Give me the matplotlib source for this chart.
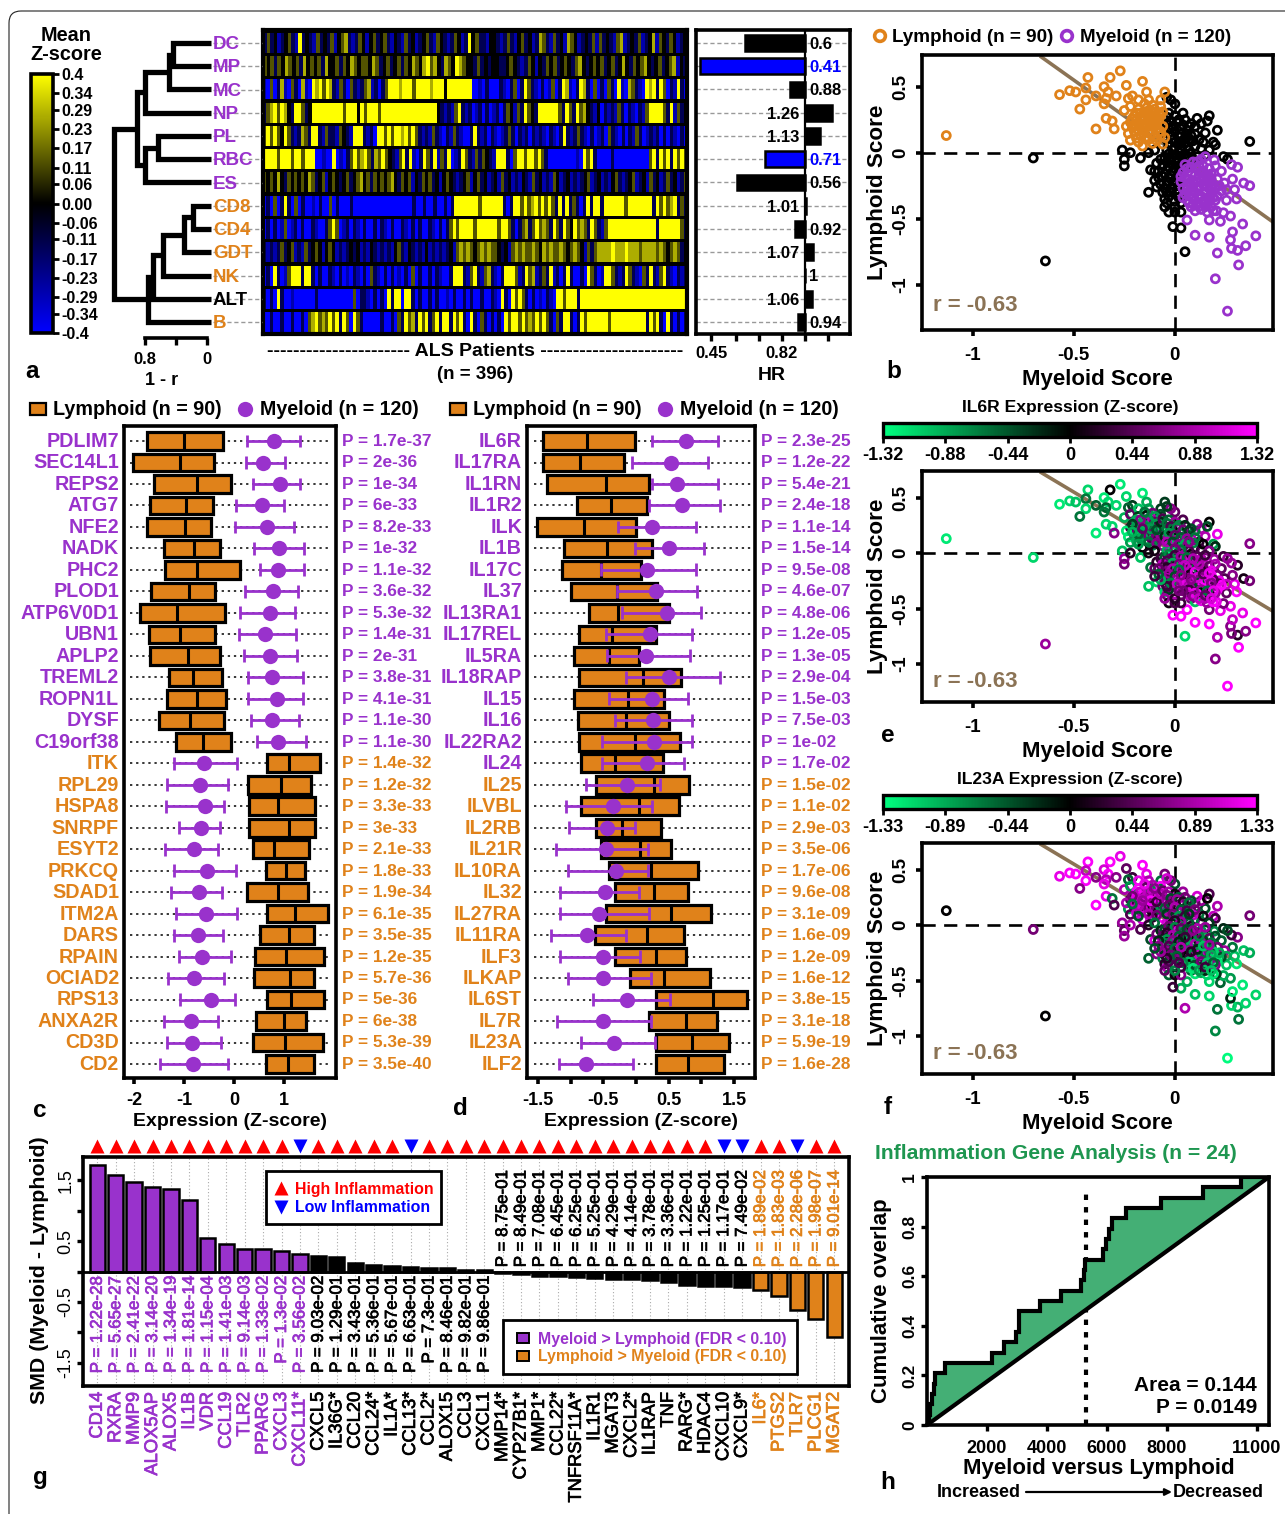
import numpy as np
import matplotlib
matplotlib.use("Agg")
import matplotlib.pyplot as plt
import matplotlib.patheffects as pe
from matplotlib.colors import LinearSegmentedColormap, Normalize
from matplotlib.cm import ScalarMappable
from matplotlib.patches import Rectangle, FancyBboxPatch

plt.rcParams['font.family'] = ['Liberation Sans', 'DejaVu Sans']
plt.rcParams['font.weight'] = 'bold'

W, H = 1285, 1514
PUR = '#9932CC'; ORG = '#E0821A'; TAN = '#8B7355'; GRN = '#1E9650'; FILLG = '#44AF75'

# ---------- panel a ----------
cell_names = ['DC','MP','MC','NP','PL','RBC','ES','CD8','CD4','GDT','NK','ALT','B']
cell_colors = [PUR]*7 + [ORG]*4 + ['black', ORG]
hr_values = [0.6,0.41,0.88,1.26,1.13,0.71,0.56,1.01,0.92,1.07,1,1.06,0.94]
hr_sig = ['MP','RBC']
level = {'B':-0.4,'b':-0.27,'n':-0.13,'k':0.0,'d':0.13,'y':0.27,'Y':0.4}
heat_rows = [
"ndnkbnkdnbYnknbdnkndbkdynbndkbkdnkdnbknbdnkbnkdnbdknbndkbnYkdnnbkknbndnbkdnkbnydnbdnkbydkbnkndbdnknbdybnkndbnkybdkndkbnk",
"dkdndkydkdnykdkdnykkdndkydkddkydnkdnkdndkydkyYdyknydkYydkkndnknkknnkdknbndkbkndkdnkdkndyknkdkdnkdnkykndkdyknkdnkdybkn",
"bBdBnybBdnBybBYyYdYynbdnBdnbndybnBndYYYyYYYdYYYYyYYYkYYYYYYYBBbBnBBBnbBndBnYdnbBnBbdBnYybBnYynBdBnBdnBYbBydnbBYyYnYdBnbYnB",
"ndyYdYyknYYdnkYYYYYYYYYdYYYkYdYYYdYYYYYYYYYYYYYYYYknbnbdYnbnBbnBnBbnBndkbdnYdknYYYYYYdnYdnYdyknbkBnbnbdnBnbBnbdYYYYdnYbdnk",
"dYdYdkYdnbnydnYYnbdnnbdknbYYYnbnBYYdYdYYyYdYdnbnbdnbBnbdnbBBnYnbnBnbBbndnBnbnBnbnbBnbBnYnbndnbBnBbnBdnbBnBnbdnBbnbnBnBnbBnB",
"YYYYdYYYdYYdYYYBBbBBYBbBndYdyYdnydYdknbdYnYbBnYdnYbdnYBbnYdnbdndknbYYYnBdYYdYYdYdnBBBBBBBBbBYdYnBBBBnBBBBBBBBBBdYnYdYnYdYd",
"dkdkykndkdkdkydnkdbkdknkdnkdykdndkdkdykndkdbkndkdnkbkdknbnkdbkdnkbnkbdnkbnbknbdnkbnbdkbnkbnbnkdbnkbnbkdnbnkdbnkbdnkbndnkbnd",
"BnBdBnYnBdBnBBbBnBBdBnBBBnBBBBBBBBBBBBBBBBBnBBnBBnBBnBnYYYYYYYdYYYYYYnBnYYdYdyYdYdYdnYnYndnBnYnYYnYYYYYYdYYYYYYYnYdYdyYndn",
"BnBnBbdBbnBnBBnbBBndYdBbnBnbBnBBnBnbBnBBnbBnBnBBnbBnBndYdYYYYdYYYYYYdYYdnBndyndYdydnYdnYdkYdydnYdnbdYYYYYYYYYYYYYYnYYYYYYdn",
"nbnbndnkdbnbdnkdkbkdkbnbnknkbnbknbnbnbkdnbknbnbkbnbnbnkbdydydkdydyddknkbdydyddydkydyddydkdydkbdndyyyyYyyyYyyydyyyydydkdydnk",
"BnBYnBbdYYYnYYnBnBBnbBnBbBnbBnBdnbBnBnBbBnBdBnBBnBnbBBnYYYnbdYnbdynbBnYYYdbnYdybndnYbnBnYnBBnBYdnBbYYdnbnYdnbBdnYnbdYnbBnbn",
"nBnBYnBBbBBBBBBnBBBBBBBBBBdBnnbBnBnBYnYYBYYnBnBBnBnBBbBnBBnBnBBnBBnbBYnBYdYdnBnBbBnbBYYdYYYnYYYYYYYYYYYYYYYYYYYYYYYYYYYYYYY",
"BBnBBnBBnBBnBdyYdydYdYnYdBYdnBBBBBnBBnBdnYdynYdYndYnYYnYdYnBYnBdnBnBnBYdYYdYdydYdYdnBdnYYnBnYdYYYYYYdYYYYYYYYYYnYdYnBYnBnBn",
]
heat_ticks = [0.4,0.34,0.29,0.23,0.17,0.11,0.06,0.0,-0.06,-0.11,-0.17,-0.23,-0.29,-0.34,-0.4]
heat_tick_labels = ['0.4','0.34','0.29','0.23','0.17','0.11','0.06','0.00','-0.06','-0.11','-0.17','-0.23','-0.29','-0.34','-0.4']
dendro_merges = [(0,1,.44),(13,2,.49),(14,3,.795),(4,5,.63),(16,6,.80),(15,17,.90),
                 (7,8,.18),(19,9,.30),(20,10,.57),(21,11,.70),(22,12,.76),(18,23,1.205)]
hr_ticks = [0.45,0.553,0.677,0.82,1,1.215]

# ---------- panels b, e, f : (myeloid, lymphoid, IL6R z, IL23A z) ----------
lym_pts = [(-1.13,.13,-1.2,.0),(-.57,.44,-1.2,1.2),(-.52,.47,-1.1,1.3),(-.49,.46,-1.0,1.3),(-.43,.57,-1.1,1.3),(-.44,.49,-.6,1.0),
(-.39,.43,-.5,.7),(-.32,.57,.0,1.3),(-.27,.62,-1.2,1.2),(-.35,.5,-1.2,1.1),(-.33,.46,-1.1,1.3),(-.34,.41,-.5,.9),(-.35,.37,-.6,1.2),
(-.29,.43,-1.1,.7),(-.24,.51,-1.1,.5),(-.16,.54,-1.2,1.3),(-.14,.46,-.9,1.2),(-.05,.46,-.3,.6),(-.44,.4,-1.1,1.3),(-.47,.33,-.6,.7),
(-.39,.18,-1.2,1.3),(-.34,.26,-1.1,1.2),(-.31,.24,-1.1,-.6),(-.3,.18,.7,.4),(-.21,.43,-.3,.3),(-.23,.41,-.5,-.5),(-.25,.32,-.9,.9),
(-.22,.35,.5,-.8),(-.18,.4,-1.0,1.2),(-.13,.4,-.8,.9),(-.07,.4,-.3,-.6),(-.18,.33,-.3,1.3),(-.14,.34,-.1,.5),(-.11,.36,.6,.9),
(-.07,.35,-.4,1.3),(-.2,.28,-1.0,-.7),(-.16,.27,-.4,.8),(-.12,.28,.7,.2),(-.08,.3,-.9,1.3),(-.22,.23,.3,.4),(-.18,.22,-.9,.9),
(-.14,.22,-1.0,-.3),(-.1,.23,.0,.8),(-.08,.25,.4,1.2),(-.23,.145,-1.2,-.8),(-.2,.16,.6,.3),(-.16,.17,-.7,1.1),(-.12,.17,.5,.0),
(-.09,.18,1.2,.9),(-.22,.095,-.8,.4),(-.19,.11,-.9,1.0),(-.14,.12,-.8,.5),(-.1,.12,-.5,1.3),(-.07,.13,.6,-.5),(-.16,.05,.0,1.1),
(-.11,.07,-.7,.2),(-.06,.065,.7,1.3),(-.05,.115,-.5,.9),(-.17,.26,-1.0,1.3),(-.12,.32,.9,-.7),(-.13,.26,.2,.9),(-.2,.2,-1.1,1.1),
(-.17,.13,-.7,.8),(-.15,.2,-1.0,1.2),(-.12,.14,.4,.1),(-.15,.3,.9,1.0),(-.09,.27,-.9,.6),(-.06,.2,-1.1,1.2),(-.07,.16,.8,-.8),
(-.11,.2,-.6,.7),(-.19,.3,-.9,1.3),(-.24,.2,-1.2,.9)]
lym_core = [(-.19,.25,-.8,1.2),(-.15,.25,-.9,.7),(-.1,.28,.5,1.1),(-.13,.3,-.7,.9),(-.17,.3,.7,1.0),(-.21,.26,-.3,.6),(-.16,.15,-.9,1.1),
(-.13,.16,.6,.6),(-.18,.17,-.5,.9),(-.21,.19,-.9,-.6),(-.12,.22,-.8,1.3),(-.16,.22,.5,.8),(-.09,.21,-.4,.3),(-.07,.28,-.2,.9),(-.1,.33,-.8,.7),
(-.15,.37,-.6,1.2),(-.06,.31,.4,.5),(-.13,.1,-.6,.9),(-.09,.09,.7,.6),(-.18,.08,-.8,-.4)]
mye_pts = [(.06,-.51,1.3,-.9),(.1,-.625,1.3,-1.0),(.17,-.64,1.3,-1.1),(.21,-.76,.9,-.6),(.2,-.955,.7,-.7),(.26,-1.2,1.3,-1.3),
(.315,-.85,1.3,-.6),(.31,-.74,.2,-.9),(.28,-.725,.6,-1.1),(.35,-.705,.7,-1.1),(.275,-.66,.7,-.2),(.285,-.6,1.0,-1.2),(.335,-.54,1.2,-1.2),
(.4,-.63,1.3,-1.1),(.275,-.48,1.2,-.8),(.225,-.52,1.2,-.5),(.17,-.51,.6,-1.1),(.24,-.455,.6,-.9),(.205,-.44,1.2,-.3),(.305,-.35,1.3,-1.2),
(.255,-.36,.5,-1.0),(.295,-.28,1.2,-1.0),(.34,-.23,.1,-1.0),(.37,-.25,.6,-.9),(.31,-.11,.2,.7),(.28,-.09,.8,.3),(.285,-.2,.7,-.6),
(.23,-.14,.5,-.5),(.195,-.055,.8,-.7),(.245,-.23,.4,.8),(.255,-.28,1.0,-.9),(.06,-.12,1.1,-.4),(.09,-.07,.4,.7),(.13,-.05,.9,-.8),
(.15,-.03,1.1,.2),(.05,-.19,.3,1.0),(.08,-.16,1.1,-.6),(.11,-.12,-.6,.0),(.14,-.1,.9,-.9),(.17,-.12,.5,.5),(.2,-.1,.9,-.4),
(.06,-.25,1.0,1.0),(.09,-.22,.4,-.7),(.12,-.19,-.7,.4),(.15,-.17,.8,-1.0),(.18,-.16,1.2,-.6),(.21,-.2,.6,.6),(.05,-.31,.7,-.3),
(.08,-.29,1.2,.9),(.11,-.26,.0,-.9),(.14,-.24,1.2,-.6),(.17,-.23,1.3,.7),(.2,-.27,.3,-1.0),(.23,-.29,1.3,-.4),(.06,-.36,.9,-.8),
(.09,-.34,1.2,.0),(.12,-.32,-.0,-1.1),(.15,-.3,1.2,.6),(.18,-.31,.5,-.7),(.21,-.33,1.3,-1.2),(.08,-.41,.6,-.5),(.11,-.39,-.9,-1.1),
(.14,-.37,1.3,-.3),(.17,-.37,.1,-1.0),(.2,-.36,.8,.7),(.1,-.44,-1.0,-1.2),(.13,-.43,1.2,-.9),(.16,-.45,.8,-1.1),(.19,-.44,1.3,-1.2),
(.07,-.23,.6,.8),(.1,-.3,1.3,-.8),(.13,-.15,.2,.8),(.16,-.21,.9,-.7),(.04,-.27,1.0,.3),(.12,-.35,.0,.4),(.07,-.38,1.0,-1.0),
(.15,-.41,.9,-.2),(.03,-.22,.9,.6),(.18,-.2,1.3,-.4),(.22,-.25,1.2,-.9),(.04,-.15,.7,-.5)]
mye_core = [(.05,-.09,.9,-.5),(.08,-.11,.3,-.9),(.11,-.07,1.0,.5),(.14,-.14,.5,-.3),(.07,-.2,.1,-.9),(.1,-.17,1.2,.9),(.13,-.21,.7,-.8),
(.16,-.26,1.2,.7),(.19,-.24,.4,-1.1),(.06,-.28,1.1,.0),(.09,-.26,.8,-.7),(.12,-.27,-.4,1.0),(.15,-.25,1.3,-.6),(.18,-.27,.7,-.9),(.07,-.33,.3,-1.0),
(.1,-.36,1.2,-.4),(.13,-.33,.8,.6),(.16,-.34,-.6,-1.0),(.19,-.34,1.2,-.5),(.09,-.39,.7,-1.2),(.12,-.41,1.0,-.8),(.15,-.38,.5,.3),(.18,-.41,1.1,-1.0),
(.03,-.18,1.0,-.4),(.04,-.34,.6,-.7),(.11,-.22,1.1,-.2),(.14,-.19,.4,-1.0),(.17,-.18,1.2,.8),(.08,-.24,.7,.2),(.12,-.1,.9,-.7)]
oth_pts = [(-.7,-.04,-1.1,.6),(-.64,-.82,.8,.0),(.37,.085,.7,.6),(.05,-.75,-1.1,.9),(.03,-.57,1.3,-.9),(-.01,-.56,1.3,.3),
(.17,.28,.0,.4),(.21,.17,1.2,.9),(.19,.08,-.8,1.0),(.15,.15,.9,-.4),(.13,.22,.9,.8),(.12,.1,.2,-.6),(.1,.2,-.6,.5),(.16,.24,-.4,.0),
(.11,.26,.7,1.1),(.04,.3,.4,.8),(.0,.37,.5,-.4),(-.02,.4,.7,.6),(-.04,.42,-.3,1.1),(.24,-.03,.3,-.2),(.26,-.05,.8,-.4),(.2,.06,-.2,.3),
(-.26,.02,-1.0,.8),(-.25,-.05,.8,.5),(-.25,-.1,.6,.8),(-.22,.0,.2,.9),(-.17,-.04,-1.0,.4),(-.13,.0,.1,.2),(-.12,-.13,-.6,-.4),
(-.1,-.14,.5,1.1),(-.13,-.3,-1.0,-.5),(-.09,-.26,-1.1,.7),(-.06,-.3,.6,-.7),(-.05,-.35,-1.1,.2),(-.04,-.38,.6,.9),(-.03,-.45,.1,-.5),
(-.0,-.45,.4,.1),(.03,-.45,.3,.7),(-.03,-.22,.9,-.2),(-.06,-.18,1.0,.4),(-.09,-.08,.2,.6),(-.1,.02,.1,-.6),(-.07,-.05,.3,-.2),
(-.03,.3,-.5,.9),(.0,.28,.8,.1),(.02,.25,-.7,-.5),(-.04,.22,-.6,.8),(-.01,.2,.0,.3),(.03,.18,-.5,1.0),(.06,.17,-.7,-.3),(.08,.13,.9,.5),
(.05,.11,-.4,-.7),(.02,.12,-.7,.8),(-.02,.13,.8,.1),(-.05,.15,-.2,-.5),(-.03,.07,1.0,.9),(.0,.08,-1.0,-.3),(.03,.07,-.8,.4),(.06,.05,.0,-.8),
(.1,.05,.7,.7),(.13,.03,.3,-.6),(-.04,.02,-.9,1.1),(-.01,.02,-1.2,-.1),(.02,.0,-.3,.8),(.05,-.01,.8,-.7),(.08,-.01,.1,.2),(.11,-.03,.4,.9),
(-.05,-.04,-.5,-.4),(-.02,-.05,.5,.3),(.01,-.06,-.8,1.2),(.04,-.07,1.1,-.6),(-.06,-.1,1.0,.5),(-.03,-.11,.6,-.3),(.0,-.12,-.2,.9),(.03,-.13,.9,.1),
(-.05,-.16,.7,-.7),(-.02,-.17,.9,.6),(.01,-.18,.3,-.4),(-.04,-.24,.4,.8),(-.01,-.24,.7,-.2),(.02,-.25,1.2,.2),(-.02,-.3,.3,-.6),(.01,-.31,.7,.7),
(.0,-.37,.9,-.5),(.03,-.38,.5,.3),(-.03,-.33,-.3,.4),(.08,.22,-.4,-.4),(.05,.25,-.2,.6),(.14,.08,.0,.1),(.17,.02,.7,-.3),(.15,-.02,.3,.8)]
oth_core = [(-.04,.27,-.6,.7),(-.02,.24,.4,-.4),(.01,.23,-.7,.8),(.04,.21,.6,.2),(.07,.2,-.3,-.6),(-.03,.18,-.8,.5),(.0,.16,.5,.9),(.03,.14,-.5,-.5),
(.06,.13,.8,.4),(.09,.09,-.7,1.0),(-.04,.1,.9,-.3),(-.01,.1,-.4,.6),(.02,.08,.7,-.8),(.05,.08,-.9,.3),(.07,.02,.4,-.5),(.03,.03,-.6,.8),(.0,.04,.6,.2),
(-.03,-.01,-.7,.6),(.0,-.02,.3,-.7),(.03,-.03,.8,.5),(.06,-.04,-.6,-.4),(.09,-.05,.9,.7),(-.04,-.07,.4,.2),(-.01,-.09,-.9,.9),(.02,-.1,.6,-.5),
(.05,-.11,1.0,.3),(-.04,-.13,.2,-.8),(-.01,-.14,.9,.7),(.02,-.15,-.6,-.2),(-.03,-.19,.8,.4),(.0,-.21,-.4,-.6),(.03,-.2,.7,.9),(-.05,-.27,.5,-.3),
(-.02,-.27,-.7,.6),(.01,-.28,1.0,-.5),(-.04,-.3,.3,.2),(-.07,-.24,-.9,.8),(-.08,-.14,.5,-.2),(-.05,-.41,.8,.5),(.0,-.41,.2,-.7),(.02,-.34,.6,.4),
(-.08,-.19,-.5,.7),(-.1,-.21,.3,-.4),(.1,.14,-.6,.6),(.07,.1,.7,-.3)]
lym_all = lym_pts + lym_core
mye_all = mye_pts + mye_core
oth_all = oth_pts + oth_core
trend_x = [-0.66, 0.485]
trend_y = [0.725, -0.525]
il6r_bar_ticks = [-1.32,-0.88,-0.44,0,0.44,0.88,1.32]
il23a_bar_ticks = [-1.33,-0.89,-0.44,0,0.44,0.89,1.33]

# ---------- panel c ----------
c_genes = ['PDLIM7','SEC14L1','REPS2','ATG7','NFE2','NADK','PHC2','PLOD1','ATP6V0D1','UBN1','APLP2','TREML2','ROPN1L','DYSF','C19orf38',
 'ITK','RPL29','HSPA8','SNRPF','ESYT2','PRKCQ','SDAD1','ITM2A','DARS','RPAIN','OCIAD2','RPS13','ANXA2R','CD3D','CD2']
c_p = ['1.7e-37','2e-36','1e-34','6e-33','8.2e-33','1e-32','1.1e-32','3.6e-32','5.3e-32','1.4e-31','2e-31','3.8e-31','4.1e-31','1.1e-30','1.1e-30',
 '1.4e-32','1.2e-32','3.3e-33','3e-33','2.1e-33','1.8e-33','1.9e-34','6.1e-35','3.5e-35','1.2e-35','5.7e-36','5e-36','6e-38','5.3e-39','3.5e-40']
c_lym = [(-1.75,-1.01,-.23),(-2.03,-1.08,-.40),(-1.6,-.75,-.06),(-1.69,-.97,-.43),(-1.75,-.99,-.46),(-1.4,-.81,-.28),(-1.39,-.75,.11),(-1.67,-.9,-.38),
 (-1.88,-1.15,-.19),(-1.7,-1.08,-.38),(-1.69,-.93,-.28),(-1.31,-.83,-.25),(-1.35,-.75,-.16),(-1.51,-.88,-.2),(-1.17,-.63,-.06),
 (.65,1.09,1.72),(.27,.94,1.54),(.29,.87,1.61),(.29,1.09,1.61),(.37,.79,1.49),(.63,1.04,1.41),(.25,.87,1.47),(.65,1.21,1.87),(.51,1.1,1.59),
 (.42,1.03,1.8),(.39,1.12,1.59),(.65,1.14,1.79),(.44,1.0,1.44),(.37,1.02,1.77),(.63,1.07,1.59)]
c_mye = [(.25,.8,1.31),(.24,.57,1.02),(.37,.92,1.31),(.03,.55,1.0),(.01,.65,1.2),(.4,.89,1.39),(.52,.87,1.39),(.22,.77,1.27),(.12,.72,1.22),(.1,.62,1.23),
 (.19,.71,1.25),(.27,.76,1.37),(.27,.85,1.37),(.33,.75,1.29),(.45,.87,1.43),
 (-1.21,-.61,.05),(-1.35,-.68,-.13),(-1.37,-.59,-.21),(-1.11,-.66,-.29),(-1.39,-.8,-.32),(-1.21,-.55,.04),(-1.26,-.7,-.25),(-1.17,-.57,.05),(-1.21,-.73,-.23),
 (-1.11,-.65,-.07),(-1.33,-.81,-.2),(-1.09,-.47,.02),(-1.4,-.87,-.33),(-1.35,-.85,-.26),(-1.48,-.83,-.13)]
# ---------- panel d ----------
d_genes = ['IL6R','IL17RA','IL1RN','IL1R2','ILK','IL1B','IL17C','IL37','IL13RA1','IL17REL','IL5RA','IL18RAP','IL15','IL16','IL22RA2','IL24',
 'IL25','ILVBL','IL2RB','IL21R','IL10RA','IL32','IL27RA','IL11RA','ILF3','ILKAP','IL6ST','IL7R','IL23A','ILF2']
d_p = ['2.3e-25','1.2e-22','5.4e-21','2.4e-18','1.1e-14','1.5e-14','9.5e-08','4.6e-07','4.8e-06','1.2e-05','1.3e-05','2.9e-04','1.5e-03','7.5e-03','1e-02','1.7e-02',
 '1.5e-02','1.1e-02','2.9e-03','3.5e-06','1.7e-06','9.6e-08','3.1e-09','1.6e-09','1.2e-09','1.6e-12','3.8e-15','3.1e-18','5.9e-19','1.6e-28']
d_lym = [(-1.42,-.75,-.02),(-1.42,-.86,-.18),(-1.36,-.46,.19),(-.9,-.39,.16),(-1.52,-.79,0),(-1.1,-.45,.25),(-1.14,-.54,.08),(-1,-.29,.32),(-.72,-.27,.51),
 (-.87,-.37,.3),(-.95,-.42,.04),(-.88,.1,.69),(-.95,-.13,.42),(-.89,-.16,.5),(-.88,-.02,.67),(-.84,-.32,.41),
 (-.62,.28,.81),(-.85,.04,.65),(-.62,-.21,.38),(-.53,.06,.54),(-.42,.23,.94),(-.33,.28,.8),(-.46,.53,1.15),(-.63,.17,.73),(-.32,.31,.76),(-.1,.43,1.13),
 (.3,1.17,1.69),(.2,.76,1.24),(.31,.85,1.42),(.31,.79,1.35)]
d_mye = [(.25,.76,1.26),(-.07,.54,1.1),(.24,.63,1.25),(.19,.7,1.28),(-.27,.25,.91),(-.02,.51,1.04),(-.53,.17,.91),(-.29,.31,.93),(-.22,.47,.99),(-.46,.22,.85),
 (-.45,.15,.83),(-.16,.5,1.28),(-.41,.24,.8),(-.32,.26,.85),(-.52,.28,.85),(-.52,.17,.74),
 (-.77,-.14,.36),(-1.08,-.36,.25),(-1.03,-.45,-.01),(-1.23,-.46,.18),(-1.05,-.31,.18),(-1.16,-.47,.05),(-1.17,-.57,.19),(-1.31,-.75,-.16),(-1.16,-.51,.06),
 (-1.05,-.5,.23),(-.66,-.14,.52),(-1.21,-.5,.23),(-.85,-.34,.29),(-1.18,-.77,-.05)]
# ---------- panel g ----------
g_genes = ['CD14','RXRA','MMP9','ALOX5AP','ALOX5','IL1B','VDR','CCL19','TLR2','PPARG','CXCL3','CXCL11*','CXCL5','IL36G*','CCL20','CCL24*','IL1A*','CCL13*','CCL2*',
 'ALOX15','CCL3','CXCL1','MMP14*','CYP27B1*','MMP1*','CCL22*','TNFRSF11A*','IL1R1','MGAT3','CXCL2*','IL1RAP','TNF','RARG*','HDAC4','CXCL10','CXCL9*','IL6*','PTGS2','TLR7','PLCG1','MGAT2']
g_smd = [1.75,1.59,1.47,1.38,1.36,1.18,.55,.455,.37,.365,.33,.29,.25,.235,.14,.10,.09,.08,.065,.05,.03,.02,
 -.03,-.04,-.07,-.08,-.09,-.1,-.12,-.13,-.14,-.17,-.22,-.23,-.235,-.25,-.3,-.4,-.64,-.78,-1.07]
g_p = ['1.22e-28','5.65e-27','2.41e-22','3.14e-20','1.34e-19','1.81e-14','1.15e-04','1.41e-03','9.14e-03','1.33e-02','1.3e-02','3.56e-02','9.03e-02','1.29e-01','3.43e-01',
 '5.36e-01','5.67e-01','6.63e-01','7.3e-01','8.46e-01','9.82e-01','9.86e-01','8.75e-01','8.49e-01','7.08e-01','6.45e-01','6.25e-01','5.25e-01','4.29e-01','4.14e-01','3.78e-01',
 '3.36e-01','1.22e-01','1.25e-01','1.17e-01','7.49e-02','1.89e-02','1.83e-03','2.28e-06','1.98e-07','9.01e-14']
g_low_inflam = ['CXCL11*','CCL13*','CXCL10','CXCL9*','TLR7']
g_n_pur, g_n_blk = 12, 24
# ---------- panel h ----------
h_hits = [55,110,166,244,277,609,2160,2570,2970,3050,3080,3765,4460,5130,5230,5270,5850,5980,6060,6150,6645,7810,9190,10465]
h_xmax = 11400
h_median = 5290


fig = plt.figure(figsize=(W/100, H/100), dpi=100, facecolor='white')

def axpx(l, t, r, b, **kw):
    return fig.add_axes([l/W, 1-b/H, (r-l)/W, (b-t)/H], **kw)

def frame(ax, lw=2.6):
    for s in ax.spines.values():
        s.set_linewidth(lw)

ov = fig.add_axes([0, 0, 1, 1], zorder=50)
ov.set_xlim(0, W); ov.set_ylim(H, 0); ov.axis('off'); ov.patch.set_alpha(0)

def T(x, y, s, size=13, color='black', ha='left', va='center', weight='bold', rot=0, **kw):
    if rot == 0:
        y = y + 1.5
    return ov.text(x, y, s, fontsize=size, color=color, ha=ha, va=va, fontweight=weight, rotation=rot, **kw)

ov.add_patch(FancyBboxPatch((9, 11), 1500, 1700, boxstyle='round,pad=0,rounding_size=12',
                            fc='none', ec='#222222', lw=0.8))

for s, x, y in [('a',32,370),('b',894,370),('c',40,1109),('d',460,1107),('e',888,734),('f',888,1106),('g',40,1476),('h',888,1481)]:
    T(x, y, s, size=17.5, ha='center')

# ---- panel a
heat_cmap = LinearSegmentedColormap.from_list('by', ['#0000FF', '#000000', '#FFFF00'])
heat_norm = Normalize(-0.4, 0.4)
cax = axpx(31, 74, 53, 333)
cb = fig.colorbar(ScalarMappable(heat_norm, heat_cmap), cax=cax)
cb.set_ticks(heat_ticks); cb.set_ticklabels(heat_tick_labels)
cb.ax.tick_params(length=4, width=2, labelsize=11.5, pad=2)
cb.outline.set_linewidth(2.6)
T(66, 34, 'Mean', 14.3, ha='center'); T(66, 53, 'Z-score', 14.3, ha='center')

row_ylim = (12.515, -0.558)
den = axpx(100, 30, 213, 334)
den.set_xlim(1.38, -0.077); den.set_ylim(*row_ylim); den.patch.set_alpha(0)
nodes = {i: (float(i), -0.05) for i in range(13)}
nid = 13
for a, b, h in dendro_merges:
    ya, ha_ = nodes[a]; yb, hb_ = nodes[b]
    den.plot([ha_, h, h, hb_], [ya, ya, yb, yb], color='black', lw=3.8, solid_joinstyle='miter', solid_capstyle='butt')
    nodes[nid] = ((ya+yb)/2, h); nid += 1
for k in ['top','left','right']:
    den.spines[k].set_visible(False)
den.spines['bottom'].set_position(('outward', 3)); den.spines['bottom'].set_bounds(0, 0.8)
den.spines['bottom'].set_linewidth(2.6)
den.set_yticks([]); den.set_xticks([0.8, 0.4, 0]); den.set_xticklabels(['0.8', '', '0'], fontsize=12)
den.tick_params(axis='x', length=5, width=2.4, pad=5)
T(162, 379, '1 - r', 13, ha='center')

heat = axpx(263, 30, 687, 334, facecolor='black')
for i, row in enumerate(heat_rows):
    vals = np.array([[level[c] for c in row]])
    heat.imshow(vals, cmap=heat_cmap, norm=heat_norm, aspect='auto', interpolation='nearest',
                extent=(0, 1, i+0.43, i-0.43))
heat.set_xlim(0, 1); heat.set_ylim(*row_ylim); heat.set_xticks([]); heat.set_yticks([]); frame(heat, 3)

for i, (n, c) in enumerate(zip(cell_names, cell_colors)):
    y = 43 + 23.27*i
    ov.plot([213, 262], [y, y], color='#999999', lw=1, ls=(0, (3, 2)), zorder=1)
    T(213, y, n, 13.5, color=c, zorder=3)

T(475, 350, '---------------------- ALS Patients ----------------------', 14, ha='center')
T(475, 373, '(n = 396)', 13.5, ha='center')

hr = axpx(696, 30, 850, 334)
hr.set_xscale('log'); hr.set_xlim(0.395, 1.464); hr.set_ylim(*row_ylim)
for i, (n, v) in enumerate(zip(cell_names, hr_values)):
    hr.axhline(i, color='#999999', lw=1, ls=(0, (3, 2)), zorder=0)
    hr.barh(i, 1-v, left=v, height=0.68, color='#0000FF' if n in hr_sig else 'black', edgecolor='black', lw=1.8, zorder=2)
    txtc = '#0000FF' if n in hr_sig else 'black'
    if v > 1:
        hr.annotate(str(v), (1, i), xytext=(-4, -1), textcoords='offset points', ha='right', va='center', fontsize=12, color=txtc, zorder=4)
    else:
        hr.annotate(str(v), (1, i), xytext=(3, -1), textcoords='offset points', ha='left', va='center', fontsize=12, color=txtc, zorder=4)
hr.axvline(1, color='black', lw=1.6, zorder=3)
hr.set_yticks([]); hr.minorticks_off()
hr.set_xticks(hr_ticks); hr.set_xticklabels(['0.45', '', '', '0.82', '', ''], fontsize=12)
hr.xaxis.set_minor_locator(matplotlib.ticker.NullLocator())
hr.tick_params(axis='x', length=5, width=2.4, pad=4); frame(hr, 2.6)
T(772, 374, 'HR', 14, ha='center')

# ---- panels b, e, f
def scatter_panel(top, bottom, color_index=None, cmap=None, norm=None):
    ax = axpx(922, top, 1273, bottom)
    ax.set_xlim(-1.25, 0.485); ax.set_ylim(-1.343, 0.74)
    ax.plot(trend_x, trend_y, color=TAN, lw=2.6, zorder=1)
    ax.axhline(0, color='black', lw=1.9, ls=(0, (5, 3.2)), zorder=1.5)
    ax.axvline(0, color='black', lw=1.9, ls=(0, (5, 3.2)), zorder=1.5)
    kw = dict(s=33, linewidths=2.0, zorder=3)
    if color_index is None:
        for pts, c in [(oth_all, 'black'), (lym_all, ORG), (mye_all, PUR)]:
            ax.scatter([p[0] for p in pts], [p[1] for p in pts], facecolors='none', edgecolors=c, **kw)
    else:
        pts = lym_all + mye_all + oth_all
        cols = cmap(norm([p[color_index] for p in pts]))
        ax.scatter([p[0] for p in pts], [p[1] for p in pts], facecolors='none', edgecolors=cols, **kw)
    ax.set_xticks([-1, -0.5, 0]); ax.set_xticklabels(['-1', '-0.5', '0'], fontsize=13.5)
    ax.set_yticks([0.5, 0, -0.5, -1]); ax.set_yticklabels(['0.5', '0', '-0.5', '-1'], fontsize=13.5, rotation=90, va='center')
    ax.tick_params(length=4, width=2.6, pad=8)
    ax.tick_params(axis='y', pad=5)
    frame(ax, 2.6)
    ax.text(0.031, 0.09, 'r = -0.63', transform=ax.transAxes, color=TAN, fontsize=16, ha='left', va='center')
    T(1097, bottom+48.5, 'Myeloid Score', 16, ha='center')
    T(878, (top+bottom)/2, 'Lymphoid Score', 16.2, ha='center', rot=90)
    return ax

scatter_panel(55, 330)
ov.scatter([880], [36], s=60, facecolors='none', edgecolors=ORG, linewidths=2.6)
T(892, 36, 'Lymphoid (n = 90)', 13.6)
ov.scatter([1067], [36], s=60, facecolors='none', edgecolors=PUR, linewidths=2.6)
T(1080, 36, 'Myeloid (n = 120)', 13.5)

gm_cmap = LinearSegmentedColormap.from_list('gm', ['#00FF7F', '#000000', '#FF00FF'])
for dy, vmax, ticks, title, idx in [(0, 1.32, il6r_bar_ticks, 'IL6R Expression (Z-score)', 2),
                                    (372, 1.33, il23a_bar_ticks, 'IL23A Expression (Z-score)', 3)]:
    norm = Normalize(-vmax, vmax)
    scatter_panel(471+dy, 702+dy, idx, gm_cmap, norm)
    c = axpx(883, 423+dy, 1257, 437+dy)
    b = fig.colorbar(ScalarMappable(norm, gm_cmap), cax=c, orientation='horizontal')
    b.set_ticks(ticks); b.set_ticklabels([f'{t:g}' for t in ticks])
    b.ax.tick_params(length=4, width=2, labelsize=13, pad=3)
    b.outline.set_linewidth(2.4)
    T(1070, 406+dy, title, 12.6, ha='center')

# ---- panels c, d
def box_panel(l, r, xlim, ticks, ticklabels, genes, pvals, lym, mye, n_pur, dot_range, lab_x, p_x, xlab_x, leg_x):
    ax = axpx(l, 426, r, 1078)
    ax.set_xlim(*xlim); ax.set_ylim(29.65, -0.7)
    for i in range(30):
        ax.hlines(i, dot_range[0], dot_range[1], color='black', lw=1.1, ls=(0, (1.5, 2.5)), zorder=0)
        q1, m, q3 = lym[i]
        ax.barh(i, q3-q1, left=q1, height=0.82, color=ORG, edgecolor='black', lw=2.3, zorder=2)
        ax.vlines(m, i-0.41, i+0.41, color='black', lw=2.2, zorder=2.5)
        lo, c, hi = mye[i]
        ax.hlines(i, lo, hi, color=PUR, lw=2, zorder=3)
        ax.vlines([lo, hi], i-0.3, i+0.3, color=PUR, lw=2, zorder=3)
        ax.plot(c, i, 'o', color=PUR, ms=11, mec='none', zorder=4)
        col = PUR if i < n_pur else ORG
        y = 440 + 21.48*i
        T(lab_x, y, genes[i], 14.2, color=col, ha='right')
        T(p_x, y, 'P = '+pvals[i], 12.4, color=col)
    ax.set_yticks([])
    ax.set_xticks(ticks); ax.set_xticklabels(ticklabels, fontsize=13)
    ax.tick_params(length=4, width=2.6, pad=6)
    frame(ax, 2.6)
    T(xlab_x, 1119.5, 'Expression (Z-score)', 14, ha='center')
    ov.add_patch(Rectangle((leg_x, 403), 16, 12, fc=ORG, ec='black', lw=1.6))
    T(leg_x+23, 408, 'Lymphoid (n = 90)', 14.2)
    ov.plot([leg_x+215], [408.5], 'o', color=PUR, ms=11, mec='none')
    T(leg_x+230, 408, 'Myeloid (n = 120)', 14.1)
    return ax

box_panel(124, 336, (-2.2, 2.04), [-2,-1,0,1], ['-2','-1','0','1'], c_genes, c_p, c_lym, c_mye, 15,
          (-2.08, 1.92), 119, 342, 230, 30)
box_panel(527, 755, (-1.67, 1.82), [-1.5,-1,-.5,0,.5,1,1.5], ['-1.5','','-0.5','','0.5','','1.5'], d_genes, d_p, d_lym, d_mye, 16,
          (-1.57, 1.78), 522, 761, 641, 450)

# ---- panel g
g = axpx(83, 1157, 849, 1386)
g.set_xlim(-0.776, 40.8); g.set_ylim(-1.88, 1.88)
ttr = g.get_xaxis_transform()
for i, (n, v, p) in enumerate(zip(g_genes, g_smd, g_p)):
    col = PUR if i < g_n_pur else ('black' if i < g_n_pur+g_n_blk else ORG)
    heavy = [pe.withStroke(linewidth=0.5, foreground=col)]
    g.axvline(i, color='#aaaaaa', lw=0.8, ls=(0, (1, 2)), zorder=0)
    g.bar(i, v, 0.83, color=col, edgecolor='black', lw=1.8, zorder=2)
    if i < 22:
        g.text(i, -0.07, 'P = '+p, rotation=90, ha='center', va='top', fontsize=12.2, color=col, fontweight='normal', zorder=3, path_effects=heavy)
    else:
        g.text(i, 0.07, 'P = '+p, rotation=90, ha='center', va='bottom', fontsize=12.2, color=col, fontweight='normal', zorder=3, path_effects=heavy)
    g.text(i, -0.026, n, transform=ttr, rotation=90, ha='center', va='top', fontsize=13.2, color=col, fontweight='normal', path_effects=heavy)
    low = n in g_low_inflam
    g.plot([i], [1.048], 'v' if low else '^', color='#0000FF' if low else '#FF0000', ms=9.5, mec='none', transform=ttr, clip_on=False)
g.axhline(0, color='black', lw=2, zorder=2.5)
g.set_xticks([])
g.set_yticks([1.5,1,.5,0,-.5,-1,-1.5]); g.set_yticklabels(['1.5','','0.5','','-0.5','','-1.5'], fontsize=13, rotation=90, va='center', fontweight='normal')
g.tick_params(axis='y', length=4, width=2.4, pad=2)
frame(g, 2.6)
T(40, 1270, 'SMD (Myeloid - Lymphoid)', 15.4, ha='center', rot=90)

ov.add_patch(Rectangle((266, 1171), 175, 53, fc='white', ec='black', lw=2))
ov.plot([281], [1188], '^', color='#FF0000', ms=10, mec='none')
ov.plot([281], [1207], 'v', color='#0000FF', ms=10, mec='none')
T(295, 1188, 'High Inflammation', 11.4, color='#FF0000')
T(295, 1206, 'Low Inflammation', 11.4, color='#0000FF')
ov.add_patch(Rectangle((503, 1320), 294, 54, fc='white', ec='black', lw=2))
ov.add_patch(Rectangle((517, 1333), 12, 10, fc=PUR, ec='black', lw=1.4))
ov.add_patch(Rectangle((517, 1351), 12, 10, fc=ORG, ec='black', lw=1.4))
T(538, 1338, 'Myeloid > Lymphoid (FDR < 0.10)', 11.4, color=PUR)
T(538, 1355, 'Lymphoid > Myeloid (FDR < 0.10)', 11.4, color=ORG)

# ---- panel h
ha = axpx(927, 1177, 1269, 1425)
ha.set_xlim(0, h_xmax); ha.set_ylim(0, 1)
steps_x = np.r_[0, np.repeat(h_hits, 2), h_xmax]
k = np.arange(1, len(h_hits)+1)/len(h_hits)
steps_y = np.r_[0, 0, np.repeat(k[:-1], 2), 1, 1]
ha.plot([h_median, h_median], [0, 0.95], color='black', lw=3, ls=(0, (1.3, 1.7)), zorder=1)
ha.fill_between(steps_x, steps_y, steps_x/h_xmax, color=FILLG, lw=0, zorder=2)
ha.plot(steps_x, steps_y, color='black', lw=3, zorder=3, solid_joinstyle='miter')
ha.plot([0, h_xmax], [0, 1], color='black', lw=3, zorder=3)
ha.set_xticks([2000,4000,6000,8000,11000]); ha.set_xticklabels(['2000','4000','6000','8000','11000'], fontsize=13)
ha.set_yticks([0,.2,.4,.6,.8,1]); ha.set_yticklabels(['0','0.2','0.4','0.6','0.8','1'], fontsize=12.5, rotation=90, va='center')
ha.tick_params(length=4, width=2.4, pad=6.5)
ha.tick_params(axis='y', pad=3)
frame(ha, 2.6)
T(1257, 1384, 'Area = 0.144', 15, ha='right')
T(1257, 1406, 'P = 0.0149', 15, ha='right')
T(875, 1152, 'Inflammation Gene Analysis (n = 24)', 15.2, color=GRN)
T(1099, 1467, 'Myeloid versus Lymphoid', 16, ha='center')
T(937, 1491, 'Increased', 13)
T(1264, 1491, 'Decreased', 13, ha='right')
T(882, 1301, 'Cumulative overlap', 16, ha='center', rot=90)
ov.annotate('', xy=(1172, 1492), xytext=(1026, 1492), arrowprops=dict(arrowstyle='-|>', color='black', lw=1.6, shrinkA=0, shrinkB=0))

fig.savefig('out.png', dpi=100, facecolor='white')
